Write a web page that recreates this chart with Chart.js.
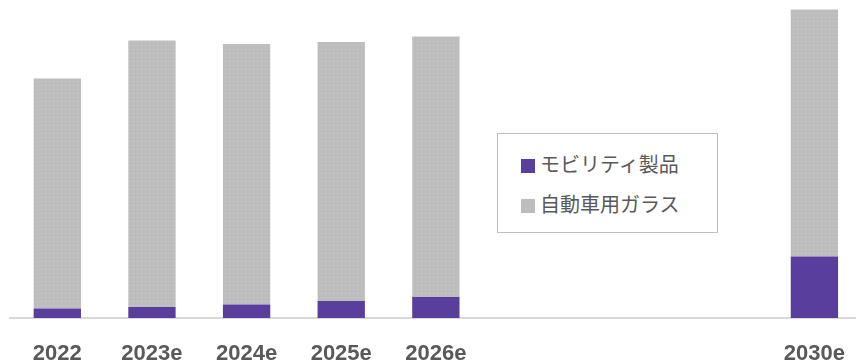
<!DOCTYPE html>
<html>
<head>
<meta charset="utf-8">
<script src="https://cdn.jsdelivr.net/npm/chart.js@4.4.0/dist/chart.umd.min.js"></script>
<style>
  html, body { margin: 0; padding: 0; background: #fff; overflow: hidden; }
  #wrap { position: relative; width: 856px; height: 363px; overflow: hidden; }
  #box { position: absolute; left: 0; top: 0; width: 868px; height: 363px; }
  #legend {
    position: absolute; left: 497px; top: 133px; width: 219px; height: 98px;
    border: 1px solid #bfbfbf; box-sizing: content-box; background: #fff;
    font-family: "Noto Sans CJK JP", sans-serif; font-size: 20px; color: #595959;
  }
  #legend .item { position: absolute; left: 23px; height: 24px; line-height: 24px; white-space: nowrap; }
  #legend .sw { display: inline-block; width: 14px; height: 14px; margin-right: 5px; vertical-align: -1px; }
</style>
</head>
<body>
<div id="wrap">
  <div id="box"><canvas id="chart" width="868" height="363"></canvas></div>
  <div id="legend"></div>
</div>
<script>
const years = ['2022', '2023e', '2024e', '2025e', '2026e', '', '', '', '2030e'];
const mobility = [9.5, 11, 13.5, 17, 21, null, null, null, 61.5];
const autoGlass = [230, 266.5, 260.5, 259, 260.5, null, null, null, 247];
const seriesNames = ['モビリティ製品', '自動車用ガラス'];

const purple = '#5a3e9e';

// grey fill with the faint dot texture of the original
function dotPattern() {
    const c = document.createElement('canvas');
    c.width = 4; c.height = 4;
    const g = c.getContext('2d');
    g.fillStyle = '#bdbdbd';
    g.fillRect(0, 0, 4, 4);
    g.fillStyle = '#cbcbcb';
    g.fillRect(1, 1, 1, 1);
    return g.createPattern(c, 'repeat');
}
const grey = dotPattern();

const ctx = document.getElementById('chart').getContext('2d');
const chart = new Chart(ctx, {
    type: 'bar',
    data: {
        labels: years,
        datasets: [{
            label: seriesNames[0],
            data: mobility,
            backgroundColor: purple,
            barPercentage: 0.5,
            categoryPercentage: 1
        }, {
            label: seriesNames[1],
            data: autoGlass,
            backgroundColor: grey,
            barPercentage: 0.5,
            categoryPercentage: 1
        }]
    },
    options: {
        responsive: false,
        animation: false,
        layout: { padding: { left: 10, right: 0, top: 0, bottom: 0 } },
        plugins: { legend: { display: false }, tooltip: { enabled: false } },
        scales: {
            x: {
                stacked: true,
                grid: { display: false, drawTicks: false },
                border: { display: true, color: '#d9d9d9', width: 2 },
                ticks: {
                    padding: 23,
                    color: '#595959',
                    font: { family: '"Liberation Sans", Arial, sans-serif', size: 22, weight: 'bold' },
                    maxRotation: 0,
                    autoSkip: false
                },
                afterFit: (scale) => { scale.height = 45; }
            },
            y: {
                stacked: true,
                display: false,
                min: 0,
                max: 318
            }
        }
    }
});

// legend box
const legend = document.getElementById('legend');
const swatches = [purple, '#bdbdbd'];
chart.data.datasets.forEach((ds, i) => {
    const item = document.createElement('div');
    item.className = 'item';
    item.style.top = (18 + i * 40) + 'px';
    item.innerHTML = '<span class="sw" style="background:' + swatches[i] + '"></span>' + ds.label;
    legend.appendChild(item);
});
</script>
</body>
</html>
